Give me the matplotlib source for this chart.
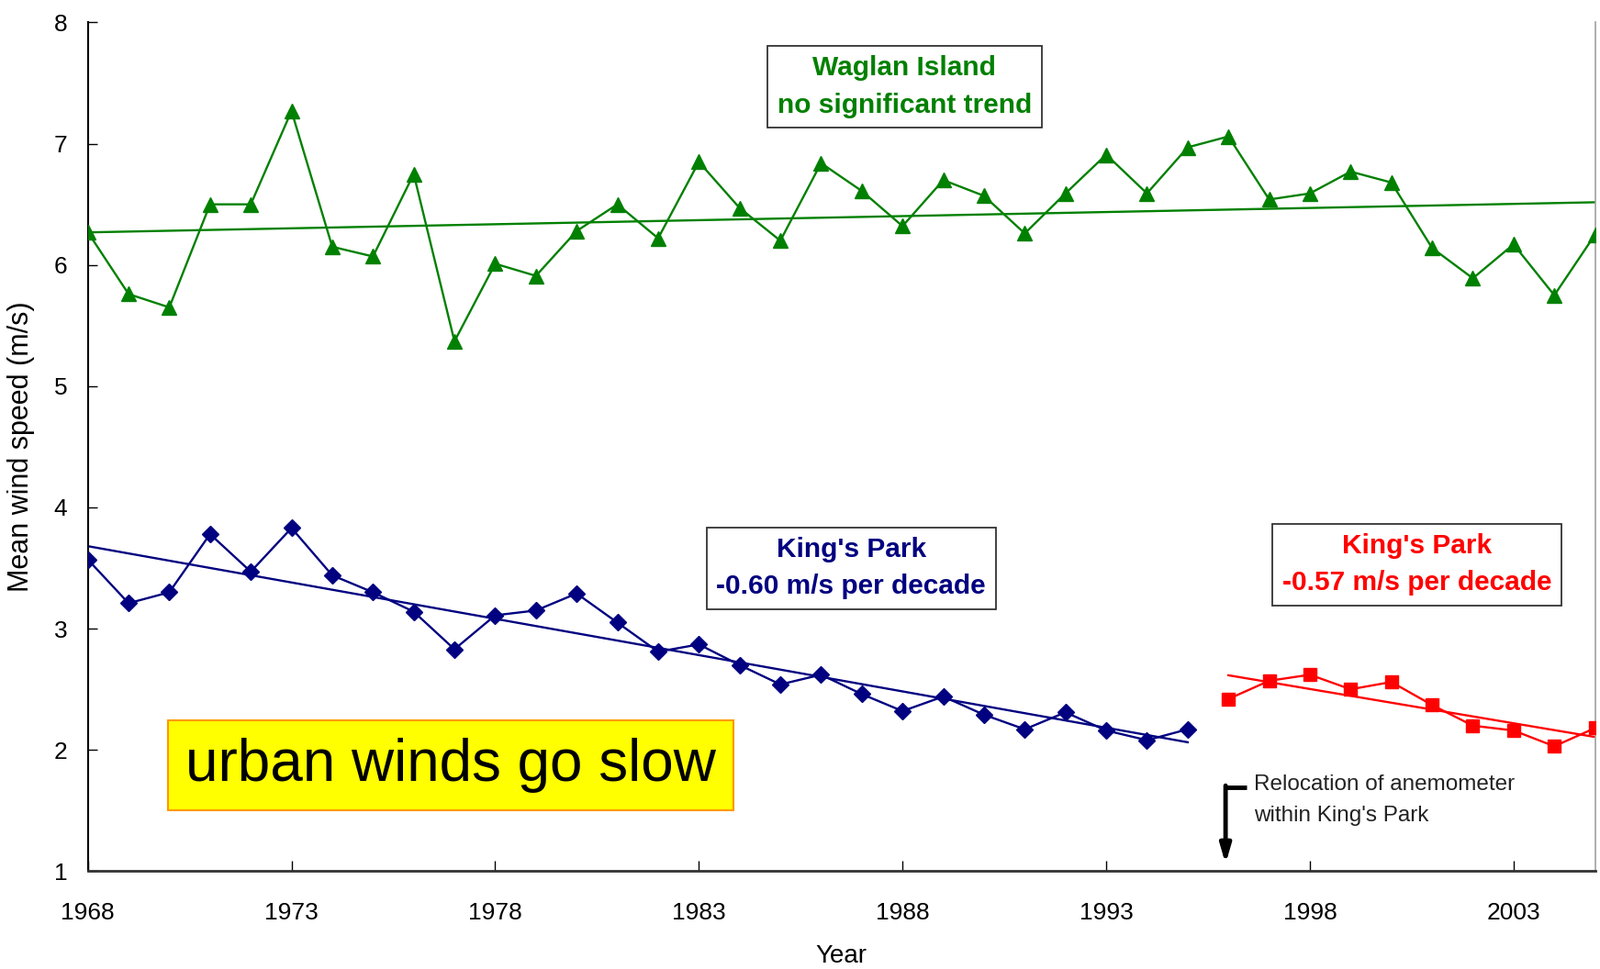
import numpy as np
import matplotlib
matplotlib.use("Agg")
import matplotlib.pyplot as plt

plt.rcParams['font.family'] = ['Liberation Sans', 'DejaVu Sans']

# Waglan Island annual mean wind speed (m/s), 1968-2005
waglan_years = list(range(1968, 2006))
waglan = [6.27, 5.76, 5.65, 6.50, 6.50, 7.27, 6.15, 6.07, 6.75, 5.37,
          6.01, 5.91, 6.28, 6.50, 6.22, 6.85, 6.47, 6.20, 6.84, 6.61,
          6.32, 6.70, 6.57, 6.26, 6.59, 6.91, 6.59, 6.97, 7.06, 6.54,
          6.59, 6.77, 6.68, 6.14, 5.89, 6.17, 5.75, 6.25]

# King's Park before relocation, 1968-1995
kp_old_years = list(range(1968, 1996))
kp_old = [3.57, 3.21, 3.30, 3.78, 3.47, 3.83, 3.44, 3.30, 3.14, 2.83,
          3.11, 3.15, 3.29, 3.05, 2.81, 2.87, 2.70, 2.54, 2.62, 2.46,
          2.32, 2.44, 2.29, 2.17, 2.31, 2.16, 2.08, 2.17]

# King's Park after relocation, 1996-2005
kp_new_years = list(range(1996, 2006))
kp_new = [2.42, 2.57, 2.62, 2.50, 2.56, 2.37, 2.20, 2.16, 2.03, 2.18]

GREEN = '#008000'
NAVY = '#000080'
RED = '#ff0000'

fig = plt.figure(figsize=(17.43, 10.56), dpi=100)
ax = fig.add_axes([0.0549, 0.101, 0.9420, 0.8758])


def trend(x, y):
    x = np.array(x)
    k, b = np.polyfit(x, np.array(y), 1)
    return x, k * x + b


series = [
    (waglan_years, waglan, GREEN, '^', 11.5),
    (kp_old_years, kp_old, NAVY, 'D', 9),
    (kp_new_years, kp_new, RED, 's', 10),
]
for xs, ys, col, mk, ms in series:
    ax.plot(xs, ys, color=col, lw=1.7, marker=mk, markersize=ms,
            markeredgecolor=col, zorder=3)
    tx, ty = trend(xs, ys)
    ax.plot(tx, ty, color=col, lw=1.7, zorder=2)

ax.set_xlim(1968, 2005)
ax.set_ylim(1, 8)
ax.set_xticks(range(1968, 2006, 5))
ax.set_yticks(range(1, 9))
ax.tick_params(axis='x', direction='in', length=8, width=1, pad=24, labelsize=19)
ax.tick_params(axis='y', direction='in', length=7, width=1, pad=16, labelsize=19)

ax.spines['top'].set_visible(False)
ax.spines['right'].set_color('#a0a0a0')
ax.spines['right'].set_linewidth(1.2)
ax.spines['left'].set_linewidth(1.5)
ax.spines['bottom'].set_linewidth(2)
ax.spines['bottom'].set_color('#333333')

ax.set_xlabel('Year', fontsize=20)
ax.set_ylabel('Mean wind speed (m/s)', fontsize=22)
ax.xaxis.set_label_coords(0.5, -0.086)
ax.yaxis.set_label_coords(-0.0352, 0.5)

box = dict(boxstyle='square,pad=0.35', facecolor='white', edgecolor='#333333', lw=1.3)
ax.text(1988.05, 7.47, 'Waglan Island\nno significant trend', color=GREEN,
        fontsize=21.5, fontweight='bold', ha='center', va='center',
        linespacing=1.55, bbox=box, zorder=5)
ax.text(1986.74, 3.50, "King's Park\n-0.60 m/s per decade", color=NAVY,
        fontsize=21.5, fontweight='bold', ha='center', va='center',
        linespacing=1.55, bbox=box, zorder=5)
ax.text(2000.63, 3.53, "King's Park\n-0.57 m/s per decade", color=RED,
        fontsize=21.5, fontweight='bold', ha='center', va='center',
        linespacing=1.55, bbox=box, zorder=5)

ax.text(1976.9, 1.875, 'urban winds go slow', fontsize=46, color='black',
        ha='center', va='center',
        bbox=dict(boxstyle='square,pad=0.3', facecolor='#ffff00',
                  edgecolor='#ff9900', lw=1.5), zorder=5)

# relocation note with hooked arrow
ax.plot([1995.93, 1996.45], [1.69, 1.69], color='black', lw=3.5,
        solid_capstyle='butt', zorder=4)
ax.annotate('', xy=(1995.93, 1.06), xytext=(1995.93, 1.705),
            arrowprops=dict(arrowstyle='-|>,head_width=0.35,head_length=1.2',
                            color='black', lw=3.5, shrinkA=0, shrinkB=0),
            zorder=4)
ax.text(1996.63, 1.80, "Relocation of anemometer\nwithin King's Park",
        fontsize=17.5, color='#222222', ha='left', va='top', linespacing=1.75)

fig.savefig('out.png', dpi=100)
